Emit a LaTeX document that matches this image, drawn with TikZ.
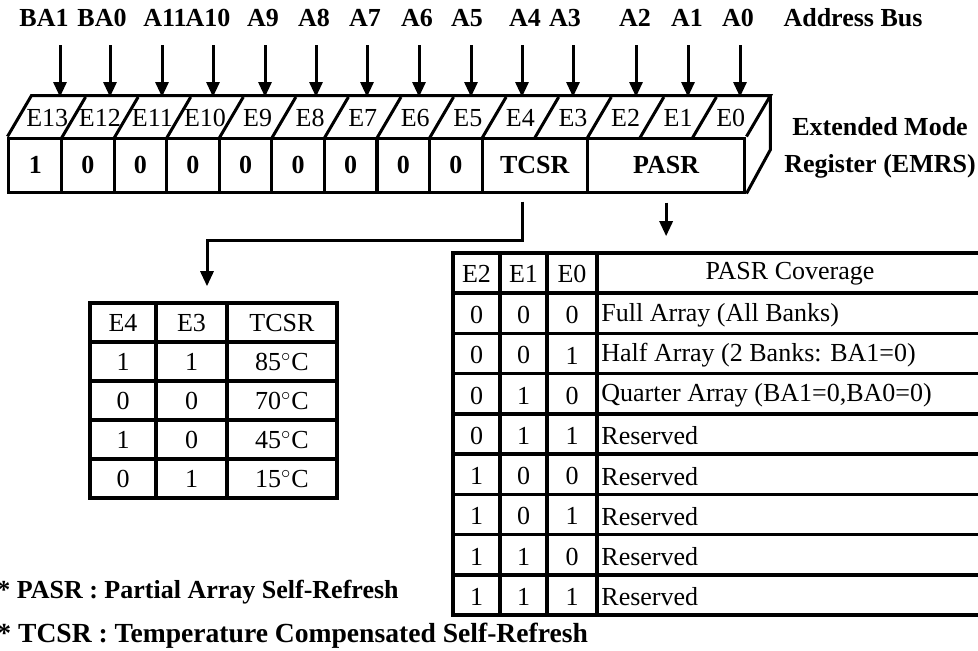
\documentclass[tikz,border=0pt]{standalone}
\usepackage{fontspec}
\setmainfont{Liberation Serif}
\usetikzlibrary{arrows.meta}

\tikzset{
  wire/.style={line width=1.5pt},
  tabline/.style={line width=1.8pt},
  busarrow/.style={line width=1.5pt, -{Triangle[length=7.5pt,width=6.5pt]}},
  boldtxt/.style={font=\fontsize{13}{15}\selectfont\bfseries},
  normtxt/.style={font=\fontsize{13}{15}\selectfont},
  bitname/.style={font=\fontsize{13}{15}\selectfont, inner sep=0pt},
  regcell/.style={draw, line width=1.5pt, minimum height=27pt, inner sep=0pt, boldtxt},
  tabframe/.style={draw, line width=1.8pt, inner sep=0pt},
}
\newcommand{\degc}{$^{\circ}$C}

\begin{document}
\begin{tikzpicture}[x=0.5pt, y=-0.5pt]
	\clip (0,0) rectangle (978,650);
	% Register front:
	\foreach \k/\v in {13/1,12/0,11/0,10/0,9/0,8/0,7/0,6/0,5/0}
		\node[regcell, minimum width=26.29pt] (v\k) at ({9+(13.5-\k)*52.57},165) {\v};
	\node[regcell, minimum width=52.57pt] (tcsr) at ({9+10*52.57},165) {TCSR};
	\node[regcell, minimum width=78.86pt] (pasr) at ({9+12.5*52.57},165) {PASR};
	% Top and side faces:
	\path (pasr.north east) ++(24,-41) coordinate (backtop);
	\draw[wire] (v13.north west) -- ++(24,-41) -- (backtop) -- (pasr.north east);
	\draw[wire] (backtop) -- ++(0,54) -- (pasr.south east);
	\foreach \i in {1,...,13}
		\draw[wire] ({9+\i*52.57},138) -- ++(24,-41);
	\foreach \k in {0,...,13}
		\node[bitname] (e\k) at ({9+(13.5-\k)*52.57+12},118) {E\k};
	% Address bus:
	\foreach \k/\ax/\lx/\txt in {13/60/44/BA1, 12/110/102/BA0, 11/162/165/A11, 10/213/208/A10, 9/265/263/A9, 8/316/314/A8, 7/367/365/A7, 6/419/417/A6, 5/471/467/A5, 4/522/525/A4, 3/573/565/A3, 2/636/635/A2, 1/688/687/A1, 0/740/738/A0}{
		\node[boldtxt] (a\k) at (\lx,18) {\txt};
		\coordinate (s\k) at (\ax,45);
		\coordinate (t\k) at (\ax,97);
		\draw[busarrow] (s\k) -- (t\k);
	}
	\node[boldtxt] (bus) at (853,18) {Address Bus};
	\node[boldtxt] (emrs1) at (880,127) {Extended Mode};
	\node[boldtxt] (emrs2) at (880,166) {Register (EMRS)};
	% TCSR table:
	\node[tabframe, minimum width=123.5pt, minimum height=97.5pt] (tcsrtab) at (213.5,400.5) {};
	\foreach \x in {156,227}
		\draw[tabline] (\x,303) -- (\x,498);
	\foreach \y in {342,381,420,459}
		\draw[tabline] (90,\y) -- (337,\y);
	\foreach \r/\a/\b/\t in {0/E4/E3/TCSR, 1/1/1/85\degc, 2/0/0/70\degc, 3/1/0/45\degc, 4/0/1/15\degc}{
		\node[normtxt] (tc\r a) at (123,{323+39*\r}) {\a};
		\node[normtxt] (tc\r b) at (191.5,{323+39*\r}) {\b};
		\node[normtxt] (tc\r c) at (282,{323+39*\r}) {\t};
	}
	% PASR table:
	\node[tabframe, minimum width=265pt, minimum height=181pt] (pasrtab) at (718,434) {};
	\foreach \x in {500,547,597}
		\draw[tabline] (\x,253) -- (\x,615);
	\foreach \i in {1,...,8}
		\draw[tabline] (453,{253+40.22*\i}) -- (983,{253+40.22*\i});
	\node[normtxt] (pa) at (476.5,274) {E2};
	\node[normtxt] (pb) at (523.5,274) {E1};
	\node[normtxt] (pc) at (572,274) {E0};
	\node[normtxt] (pd) at (790,274) {PASR Coverage};
	\foreach \r/\a/\b/\c/\t in {1/0/0/0/Full Array (All Banks), 2/0/0/1/Half Array (2 Banks: BA1=0), 3/0/1/0/{Quarter Array (BA1=0,BA0=0)}, 4/0/1/1/Reserved, 5/1/0/0/Reserved, 6/1/0/1/Reserved, 7/1/1/0/Reserved, 8/1/1/1/Reserved}{
		\node[normtxt] (pa\r) at (476.5,{275+40.22*\r}) {\a};
		\node[normtxt] (pb\r) at (523.5,{275+40.22*\r}) {\b};
		\node[normtxt] (pc\r) at (572,{275+40.22*\r}) {\c};
		\node[normtxt, anchor=west, inner sep=1.5pt] (pd\r) at (598,{275+40.22*\r}) {\t};
	}
	% Connectors:
	\draw[busarrow, shorten <=4pt, shorten >=7.5pt] ([xshift=-6pt]tcsr.south) -- ++(0,47) -| ([xshift=-3.25pt]tcsrtab.north);
	\draw[busarrow, shorten <=4.5pt, shorten >=7.5pt] (pasr.south) -- (pasr.south |- pasrtab.north);
	% Notes:
	\node[boldtxt, anchor=west, inner sep=0pt] (fn1) at (-3,592) {* PASR : Partial Array Self-Refresh};
	\node[boldtxt, font=\fontsize{13.8}{15}\selectfont\bfseries, anchor=west, inner sep=0pt] (fn2) at (-3,636) {* TCSR : Temperature Compensated Self-Refresh};
\end{tikzpicture}
\end{document}
